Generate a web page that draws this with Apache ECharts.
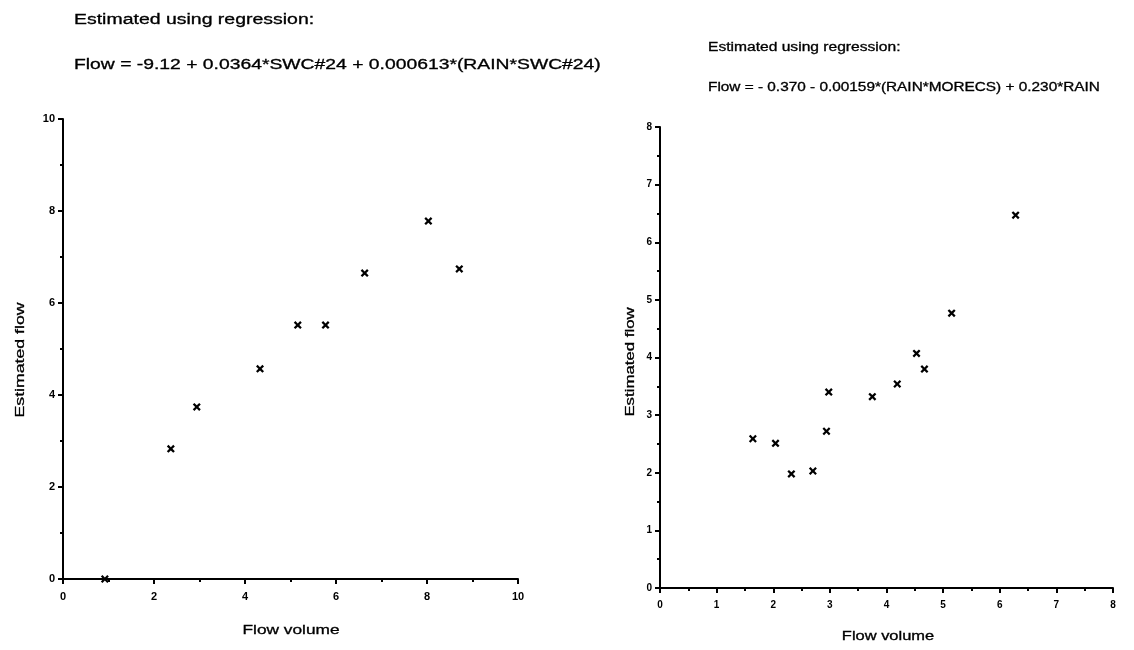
<!DOCTYPE html>
<html>
<head>
<meta charset="utf-8">
<script src="https://cdn.jsdelivr.net/npm/echarts@6/dist/echarts.min.js"></script>
<style>
html,body{margin:0;padding:0;background:#fff;}
#chart{width:1134px;height:650px;}
</style>
</head>
<body>
<div id="chart"></div>
<script>
// left panel: flow volume vs estimated flow (SWC#24 model)
var leftPoints = [
  [0.92, 0], [2.37, 2.83], [2.94, 3.74], [4.33, 4.57], [5.16, 5.52],
  [5.77, 5.52], [6.63, 6.65], [8.03, 7.78], [8.71, 6.74]
];
// right panel: flow volume vs estimated flow (MORECS model)
var rightPoints = [
  [1.64, 2.59], [2.04, 2.51], [2.32, 1.98], [2.7, 2.03], [2.94, 2.72],
  [2.98, 3.40], [3.75, 3.32], [4.19, 3.54], [4.53, 4.07], [4.67, 3.80],
  [5.15, 4.77], [6.28, 6.47]
];
var leftTitle = 'Estimated using regression:';
var leftEq = 'Flow = -9.12 + 0.0364*SWC#24 + 0.000613*(RAIN*SWC#24)';
var rightTitle = 'Estimated using regression:';
var rightEq = 'Flow = - 0.370 - 0.00159*(RAIN*MORECS) + 0.230*RAIN';
var xName = 'Flow volume';
var yName = 'Estimated flow';

var font = 'Liberation Sans, Arial, sans-serif';
var tickFont = 'Liberation Sans Narrow, Liberation Sans, Arial, sans-serif';
var crossPath = 'path://M0,2L2,0L5,3L8,0L10,2L7,5L10,8L8,10L5,7L2,10L0,8L3,5Z';

function axis(max, interval, labelSize, margin) {
  return {
    type: 'value',
    min: 0, max: max, interval: interval,
    axisLine: {show: true, lineStyle: {color: '#000', width: 2}},
    axisTick: {show: true, length: 5, lineStyle: {color: '#000', width: 2}},
    minorTick: {show: true, splitNumber: 2, length: 3, lineStyle: {color: '#000', width: 2}},
    axisLabel: {fontFamily: tickFont, fontSize: labelSize, fontWeight: 'bold', color: '#000', margin: margin},
    splitLine: {show: false}
  };
}

// wide scanned lettering: stretch the text horizontally
function label(text, x, y, size, sx, align, rot) {
  return {
    type: 'text', x: x, y: y, scaleX: sx, rotation: rot || 0,
    style: {
      text: text, fill: '#000', stroke: '#000', lineWidth: 0.3,
      font: size + 'px ' + font, textAlign: align, textVerticalAlign: 'middle'
    }
  };
}

var chart = echarts.init(document.getElementById('chart'));
chart.setOption({
  animation: false,
  backgroundColor: '#fff',
  graphic: [
    label(leftTitle, 74, 20, 14, 1.39, 'left'),
    label(leftEq, 74, 65, 14, 1.38, 'left'),
    label(rightTitle, 708, 48, 12, 1.3, 'left'),
    label(rightEq, 708, 88, 12, 1.28, 'left'),
    label(xName, 291, 630, 13, 1.33, 'center'),
    label(xName, 888, 637, 12, 1.37, 'center'),
    label(yName, 20, 360, 13, 1.36, 'center', Math.PI / 2),
    label(yName, 631, 362, 12, 1.4, 'center', Math.PI / 2)
  ],
  grid: [
    {left: 63, right: 616, top: 119, bottom: 71},
    {left: 660, right: 21, top: 127, bottom: 62}
  ],
  xAxis: [
    Object.assign(axis(10, 2, 11, 12), {gridIndex: 0}),
    Object.assign(axis(8, 1, 10, 12), {gridIndex: 1})
  ],
  yAxis: [
    Object.assign(axis(10, 2, 11, 8), {gridIndex: 0}),
    Object.assign(axis(8, 1, 10, 8), {gridIndex: 1})
  ],
  series: [
    {type: 'scatter', xAxisIndex: 0, yAxisIndex: 0, data: leftPoints,
     symbol: crossPath, symbolSize: 8, itemStyle: {color: '#000', opacity: 1}},
    {type: 'scatter', xAxisIndex: 1, yAxisIndex: 1, data: rightPoints,
     symbol: crossPath, symbolSize: 8, itemStyle: {color: '#000', opacity: 1}}
  ]
});
</script>
</body>
</html>
